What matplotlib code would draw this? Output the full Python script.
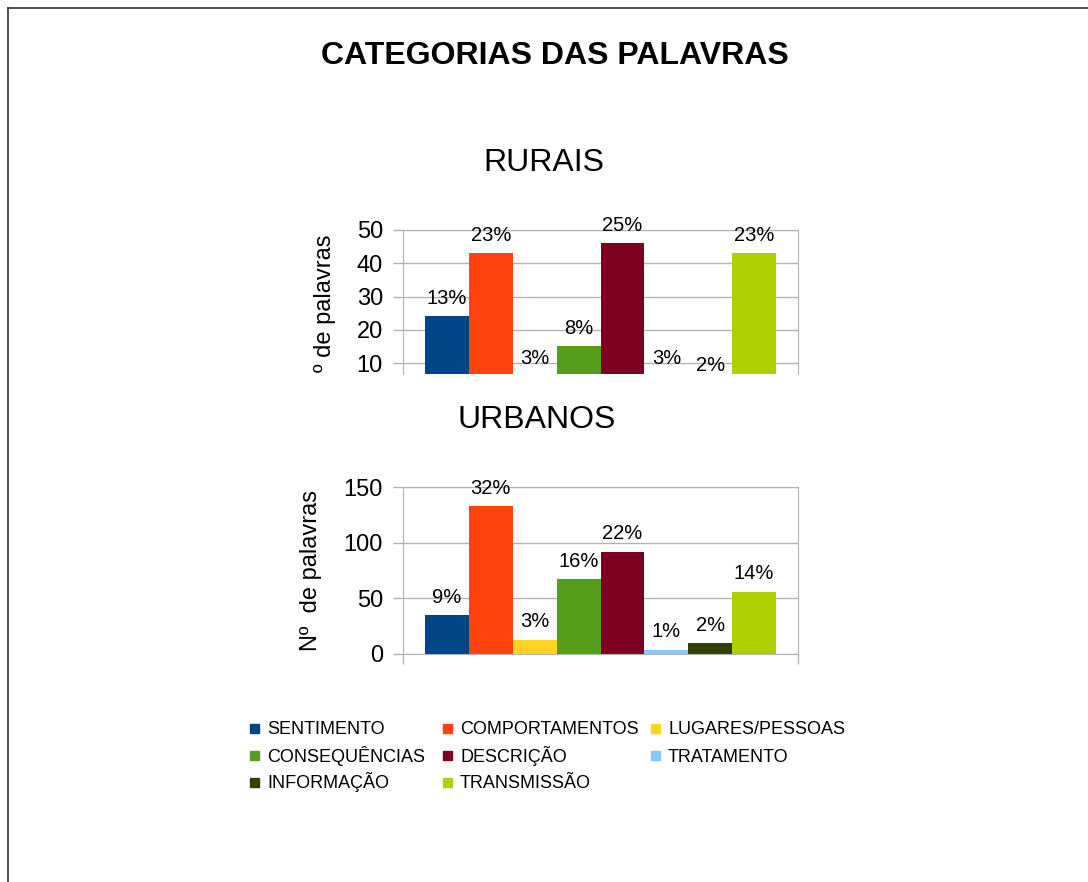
import matplotlib
matplotlib.use("Agg")
import matplotlib.pyplot as plt
from matplotlib.lines import Line2D
from matplotlib.patches import Rectangle

plt.rcParams["font.family"] = ["Liberation Sans", "DejaVu Sans"]

categorias = ["SENTIMENTO", "COMPORTAMENTOS", "LUGARES/PESSOAS", "CONSEQUÊNCIAS",
              "DESCRIÇÃO", "TRATAMENTO", "INFORMAÇÃO", "TRANSMISSÃO"]
cores = ["#004586", "#ff420e", "#ffd320", "#579d1c",
         "#7e0021", "#83caff", "#314004", "#aecf00"]

rurais = [24, 43, 6, 15, 46, 6, 4, 43]
rurais_pct = ["13%", "23%", "3%", "8%", "25%", "3%", "2%", "23%"]

urbanos = [35, 133, 13, 67, 92, 4, 10, 56]
urbanos_pct = ["9%", "32%", "3%", "16%", "22%", "1%", "2%", "14%"]

W, H = 1088, 882
GRID = "#b3b3b3"


def fx(px):
    return px / W


def fy(py):
    return 1 - py / H


def draw_bars(ax, values, pcts, ylim, yticks, ylabel, label_x, label_y, tick_bottom):
    for i, (v, c, name) in enumerate(zip(values, cores, categorias)):
        ax.bar(i, v, width=1.0, color=c, label=name, zorder=2)
        ax.annotate(pcts[i], (i, v), xytext=(0, 6), textcoords="offset points",
                    ha="center", va="bottom", fontsize=14.5, annotation_clip=False,
                    clip_on=False)
    ax.set_xlim(-1, 8)
    ax.set_ylim(*ylim)
    ax.set_yticks(yticks)
    ax.tick_params(axis="y", labelsize=17, length=7.5, width=1, color=GRID, pad=7)
    ax.yaxis.grid(True, color=GRID, linewidth=1, zorder=0)
    ax.set_axisbelow(True)
    if tick_bottom:
        ax.set_xticks([-1, 8])
        ax.tick_params(axis="x", length=7.5, width=1, color=GRID, labelbottom=False)
    else:
        ax.set_xticks([])
    for side in ["left", "right", "top"]:
        ax.spines[side].set_color(GRID)
    ax.spines["bottom"].set_visible(tick_bottom)
    ax.spines["bottom"].set_color(GRID)
    ax.set_ylabel(ylabel, fontsize=17)
    ax.yaxis.set_label_coords(label_x, label_y)


fig = plt.figure(figsize=(W / 100, H / 100), dpi=100)

ax1 = fig.add_axes([fx(403), fy(374), fx(798) - fx(403), fy(230) - fy(374)])
draw_bars(ax1, rurais, rurais_pct, (6.7, 50), [10, 20, 30, 40, 50],
          "º de palavras", -0.17, 0.49, False)

ax2 = fig.add_axes([fx(403), fy(654), fx(798) - fx(403), fy(487) - fy(654)])
draw_bars(ax2, urbanos, urbanos_pct, (0, 150), [0, 50, 100, 150],
          "Nº  de palavras", -0.205, 0.5, True)

fig.text(fx(555), fy(56), "CATEGORIAS DAS PALAVRAS", ha="center", va="center",
         fontsize=23, fontweight="bold")
fig.text(fx(544), fy(163), "RURAIS", ha="center", va="center", fontsize=23)
fig.text(fx(537), fy(420), "URBANOS", ha="center", va="center", fontsize=23)

# legenda em 3 colunas, preenchida por linhas
col_x = [250, 443, 651]
row_y = [728, 755, 782]
for k, (name, c) in enumerate(zip(categorias, cores)):
    x0, y0 = col_x[k % 3], row_y[k // 3]
    fig.patches.append(Rectangle((fx(x0), fy(y0 + 4.5)), fx(9), 9 / H, color=c,
                                 transform=fig.transFigure, figure=fig))
    fig.text(fx(x0 + 17), fy(y0 + 6.5), name, ha="left", va="baseline", fontsize=13)

# moldura
fig.add_artist(Line2D([fx(8), fx(8)], [-0.1, fy(8)], color="#333333", linewidth=1.2))
fig.add_artist(Line2D([fx(8), 1.1], [fy(8), fy(8)], color="#333333", linewidth=1.2))

fig.savefig("out.png", dpi=100, facecolor="white")
